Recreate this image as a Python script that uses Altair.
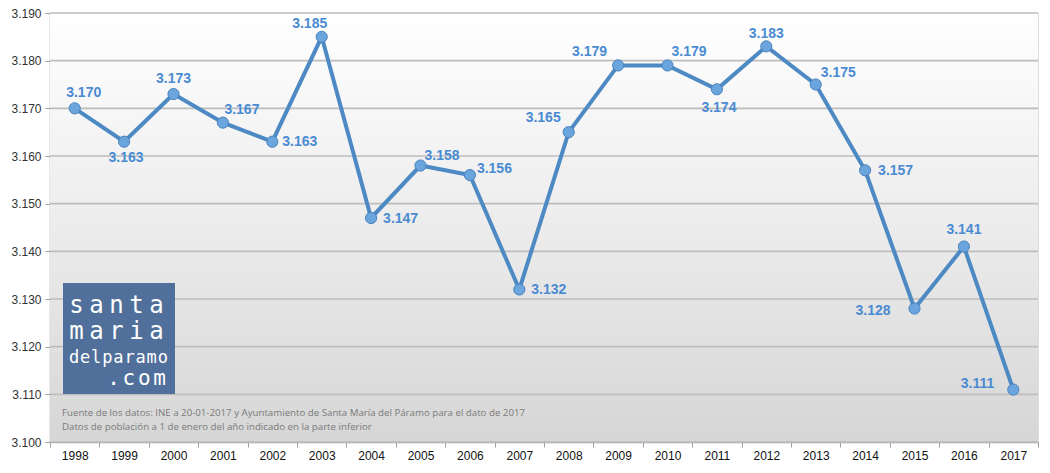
import altair as alt
import pandas as pd

years = [str(y) for y in range(1998, 2018)]
population = [3170, 3163, 3173, 3167, 3163, 3185, 3147, 3158, 3156, 3132,
              3165, 3179, 3179, 3174, 3183, 3175, 3157, 3128, 3141, 3111]
y_ticks = [3100, 3110, 3120, 3130, 3140, 3150, 3160, 3170, 3180, 3190]
logo_lines = ["santa", "maria", "delparamo", ".com"]
footnote_lines = [
    "Fuente de los datos: INE a 20-01-2017 y Ayuntamiento de Santa María del Páramo para el dato de 2017",
    "Datos de población a 1 de enero del año indicado en la parte inferior",
]

# label placement (style): align, dx, dy
placements = {
    "1998": ("center", 9, -15), "1999": ("center", 2, 16), "2000": ("center", 0, -15),
    "2001": ("center", 19, -13), "2002": ("left", 10, 0), "2003": ("center", -12, -13),
    "2004": ("left", 12, 1), "2005": ("left", 4, -10), "2006": ("left", 7, -6),
    "2007": ("left", 12, 1), "2008": ("right", -8, -14), "2009": ("right", -11, -13),
    "2010": ("left", 4, -13), "2011": ("center", 2, 19), "2012": ("center", 0, -12),
    "2013": ("left", 5, -12), "2014": ("left", 13, 1), "2015": ("right", -24, 2),
    "2016": ("center", 0, -17), "2017": ("right", -19, -6),
}

W, H = 988, 429
df = pd.DataFrame({"year": years, "pop": population})
ticks_df = pd.DataFrame({"v": y_ticks})
one = pd.DataFrame({"a": [0]})

fmt = "replace(format(datum.value, ','), ',', '.')"

X = alt.X("year:N", sort=years, title=None,
          scale=alt.Scale(type="band", paddingInner=0, paddingOuter=0),
          axis=alt.Axis(labelAngle=0, tickBand="extent", grid=False, tickSize=5,
                        labelPadding=3, labelFontSize=12, labelColor="#111111",
                        labelFont="Liberation Sans", domainColor="#a0a0a0",
                        tickColor="#a0a0a0", domainWidth=1.5))


def Y(field):
    return alt.Y(field, title=None,
                 scale=alt.Scale(domain=[3100, 3190], nice=False, zero=False),
                 axis=alt.Axis(values=y_ticks, labelExpr=fmt, grid=False, tickSize=5,
                               labelPadding=4, labelFontSize=12, labelColor="#333333",
                               labelFont="Liberation Sans", domainColor="#a0a0a0",
                               tickColor="#a0a0a0", domainWidth=1.5))


bg = alt.Chart(one).mark_rect(
    color=alt.Gradient(gradient="linear", x1=0, x2=0, y1=0, y2=1,
                       stops=[alt.GradientStop(color="#ffffff", offset=0),
                              alt.GradientStop(color="#ececec", offset=0.5),
                              alt.GradientStop(color="#d6d6d6", offset=1)])
).encode(x=alt.value(0), x2=alt.value(W), y=alt.value(0), y2=alt.value(H))

grid = alt.Chart(ticks_df).mark_rule(color="#bdbdbd", strokeWidth=1.6).encode(
    y=Y("v:Q"), x=alt.value(0), x2=alt.value(W))

logo_rect = alt.Chart(one).mark_rect(color="#50709b").encode(
    x=alt.value(13), x2=alt.value(125), y=alt.value(270), y2=alt.value(381))

# (text, font size, first char centre x, pitch, baseline y)
logo_specs = [
    (logo_lines[0], 24, 26.5, 20.0, 300),
    (logo_lines[1], 24, 26.5, 20.0, 326),
    (logo_lines[2], 17, 24.0, 11.1, 350),
    (logo_lines[3], 21, 63.5, 15.4, 372),
]
logo_layers = []
for t, fs, x0, pitch, yy in logo_specs:
    for i, ch in enumerate(t):
        logo_layers.append(
            alt.Chart(one).mark_text(text=ch, font="DejaVu Sans Mono", fontSize=fs,
                                     align="center", baseline="alphabetic",
                                     color="#ffffff").encode(
                x=alt.value(x0 + i * pitch), y=alt.value(yy)))

foot_layers = [
    alt.Chart(one).mark_text(text=t, font="Open Sans", fontSize=9.7, align="left",
                             baseline="alphabetic", color="#7a7a7a").encode(
        x=alt.value(12), y=alt.value(yy))
    for t, yy in zip(footnote_lines, [403, 417])
]

line = alt.Chart(df).mark_line(color="#4d89c3", strokeWidth=4).encode(x=X, y=Y("pop:Q"))
points = alt.Chart(df).mark_point(filled=True, shape="circle", size=125, color="#6ba5de",
                                  stroke="#4a82bd", strokeWidth=1, opacity=1).encode(
    x=X, y=Y("pop:Q"))

label_layers = []
for yr, (al, dx, dy) in placements.items():
    label_layers.append(
        alt.Chart(df).transform_filter(alt.datum.year == yr).transform_calculate(
            label="replace(format(datum.pop, ','), ',', '.')"
        ).mark_text(align=al, dx=dx, dy=dy, baseline="middle", font="Liberation Sans",
                    fontSize=14, fontWeight="bold", color="#4a8bd2").encode(
            x=X, y=Y("pop:Q"), text="label:N"))

chart = alt.layer(bg, grid, logo_rect, *logo_layers, *foot_layers, line, points,
                  *label_layers).properties(
    width=W, height=H,
    autosize=alt.AutoSizeParams(type="none"),
    padding={"left": 42, "top": 5, "right": 4, "bottom": 25},
).configure_view(stroke=None).configure(background="#ffffff")

chart.save("out.html", embed_options={"renderer": "svg", "actions": False})
